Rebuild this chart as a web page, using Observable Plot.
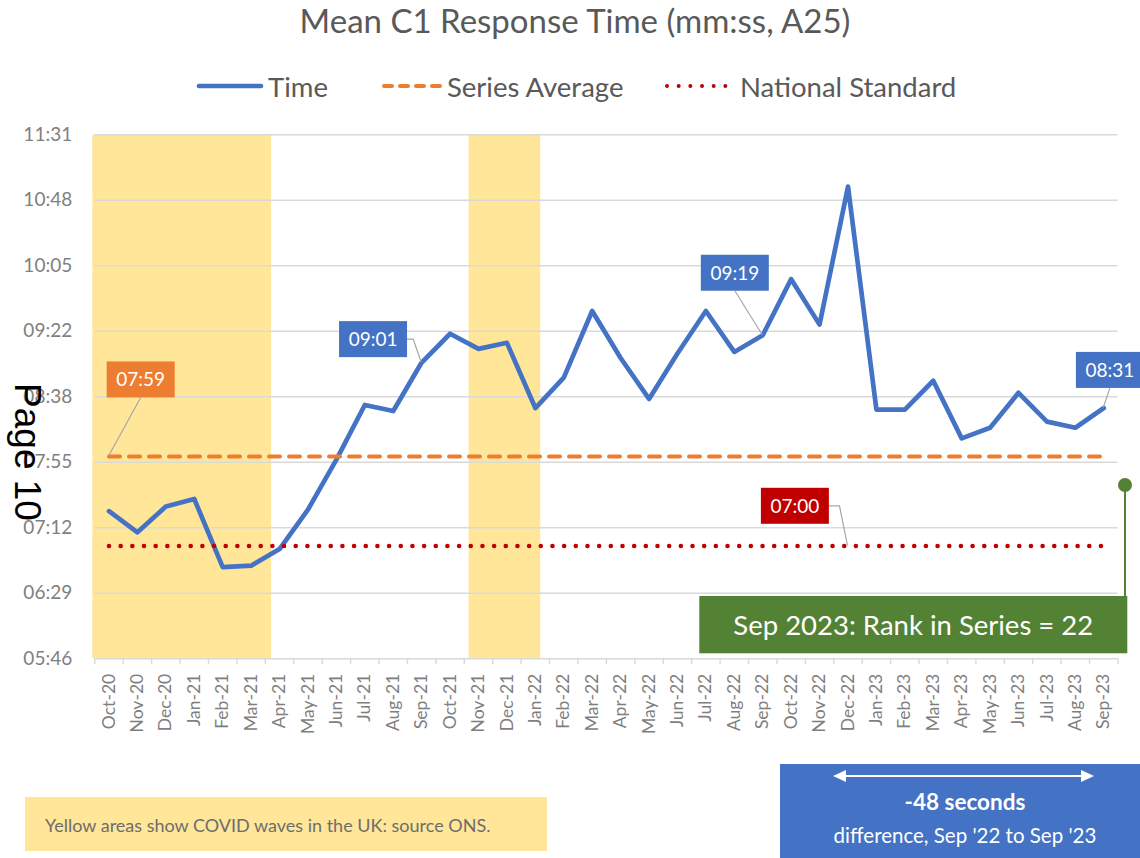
<!DOCTYPE html>
<html>
<head>
<meta charset="utf-8">
<script src="https://cdn.jsdelivr.net/npm/d3@7"></script>
<script src="https://cdn.jsdelivr.net/npm/@observablehq/plot@0.6"></script>
<style>
html, body { margin: 0; padding: 0; background: #fff; }
#page { position: relative; width: 1140px; height: 858px; overflow: hidden; font-family: Lato, "Open Sans", sans-serif; }
#title { position: absolute; left: 0; width: 1150px; top: 0px; text-align: center; font-size: 33px; color: #595959; }
.leg { position: absolute; top: 70px; height: 32px; display: flex; align-items: center; font-size: 27.5px; color: #595959; }
.leg svg { margin-right: 4px; }
#chart { position: absolute; left: 0; top: 115px; }
#note { position: absolute; left: 25px; top: 797px; width: 522px; height: 54px; background: #FFE699; color: #6d6d6d; font-size: 18px; box-sizing: border-box; padding-left: 20px; line-height: 56px; }
#diff { position: absolute; left: 780px; top: 764px; width: 370px; height: 100px; background: #4472C4; color: #fff; }
#diff .big { position: absolute; left: 0; width: 370px; text-align: center; top: 24px; font-size: 22.5px; font-weight: bold; margin-left: 0px; }
#diff .small { position: absolute; left: 0; width: 370px; text-align: center; top: 59px; font-size: 20.5px; margin-left: 0px; }
#pagemark { position: absolute; left: 27px; top: 452px; transform: translate(-50%, -50%) rotate(90deg); font-family: "Liberation Sans", Arial, sans-serif; font-size: 37px; color: #000; white-space: nowrap; }
</style>
</head>
<body>
<div id="page"></div>
<script>
// ---------- data ----------
const months = ["Oct-20","Nov-20","Dec-20","Jan-21","Feb-21","Mar-21","Apr-21","May-21","Jun-21","Jul-21","Aug-21","Sep-21",
  "Oct-21","Nov-21","Dec-21","Jan-22","Feb-22","Mar-22","Apr-22","May-22","Jun-22","Jul-22","Aug-22","Sep-22",
  "Oct-22","Nov-22","Dec-22","Jan-23","Feb-23","Mar-23","Apr-23","May-23","Jun-23","Jul-23","Aug-23","Sep-23"];
// mean C1 response time, seconds
const timeSeconds = [443, 429, 446, 451, 406, 407, 418, 444, 477, 513, 509, 541,
  560, 550, 554, 511, 531, 575, 544, 517, 547, 575, 548, 559,
  596, 566, 657, 510, 510, 529, 491, 498, 521, 502, 498, 511];
const seriesAverage = 479;      // 07:59
const nationalStandard = 420;   // 07:00
const yTicks = [345.6, 388.8, 432, 475.2, 518.4, 561.6, 604.8, 648, 691.2];
const yTickLabels = ["05:46","06:29","07:12","07:55","08:38","09:22","10:05","10:48","11:31"];
// COVID waves as positions on the month index axis
const covidWaves = [{from: -0.57, to: 5.72}, {from: 12.67, to: 15.19}];
const rankText = "Sep 2023: Rank in Series = 22";
const seriesNames = ["Time", "Series Average", "National Standard"];
const noteText = "Yellow areas show COVID waves in the UK: source ONS.";

const colors = {time: "#4472C4", avg: "#ED7D31", std: "#C00000", covid: "#FFE699", grid: "#D9D9D9", axis: "#7F7F7F", green: "#548235"};

const mmss = s => { const r = Math.round(s); const m = Math.floor(r / 60), sec = r % 60; return String(m).padStart(2, "0") + ":" + String(sec).padStart(2, "0"); };

const timeData = months.map((m, i) => ({i, month: m, v: timeSeconds[i]}));
const avgData = months.map((m, i) => ({i, v: seriesAverage}));
const stdData = months.map((m, i) => ({i, v: nationalStandard}));

// ---------- page ----------
const page = document.getElementById("page");
const title = document.createElement("div");
title.id = "title";
title.textContent = "Mean C1 Response Time (mm:ss, A25)";
page.appendChild(title);

// legend
const legendItems = [
  {name: seriesNames[0], left: 196, w: 68, stroke: colors.time, sw: 4.7, dash: null},
  {name: seriesNames[1], left: 381, w: 62, stroke: colors.avg, sw: 4, dash: "8,8"},
  {name: seriesNames[2], left: 664, w: 72, stroke: colors.std, sw: 4, dash: "0,11.67"}
];
for (const it of legendItems) {
  const d = document.createElement("div");
  d.className = "leg";
  d.style.left = it.left + "px";
  const sv = d3.create("svg").attr("width", it.w).attr("height", 12);
  sv.append("line").attr("x1", 3).attr("x2", it.w - 3).attr("y1", 6).attr("y2", 6)
    .attr("stroke", it.stroke).attr("stroke-width", it.sw).attr("stroke-linecap", "round")
    .attr("stroke-dasharray", it.dash);
  d.appendChild(sv.node());
  const t = document.createElement("span");
  t.textContent = it.name;
  d.appendChild(t);
  page.appendChild(d);
}

// ---------- plot ----------
const W = 1140, H = 743;
const plot = Plot.plot({
  width: W, height: H,
  marginLeft: 94.3, marginRight: 22.5, marginTop: 19.3, marginBottom: 199.7,
  style: {fontFamily: "Lato, 'Open Sans', sans-serif", background: "transparent", overflow: "visible"},
  x: {domain: [-0.5, months.length - 0.5], axis: null},
  y: {domain: [yTicks[0], yTicks[yTicks.length - 1]], axis: null},
  marks: [
    Plot.rect(covidWaves, {x1: "from", x2: "to", y1: yTicks[0], y2: yTicks[yTicks.length - 1], fill: colors.covid}),
    Plot.ruleY(yTicks, {stroke: colors.grid, strokeWidth: 1.4}),
    Plot.axisX(d3.range(months.length + 1).map(i => i - 0.5), {tickSize: 6, tickFormat: () => "", stroke: colors.grid, strokeWidth: 1.4, label: null}),
    Plot.axisX(d3.range(months.length), {tickSize: 0, tickPadding: 15, tickRotate: -90, tickFormat: i => months[i], fontSize: 17.5, color: colors.axis, label: null}),
    Plot.axisY(yTicks, {tickSize: 0, tickPadding: 22.6, tickFormat: d => yTickLabels[yTicks.indexOf(d)], fontSize: 19, color: colors.axis, label: null}),
    Plot.line(timeData, {x: "i", y: "v", stroke: colors.time, strokeWidth: 4.7, strokeLinejoin: "round", strokeLinecap: "round"}),
    Plot.line(avgData, {x: "i", y: "v", stroke: colors.avg, strokeWidth: 4, strokeDasharray: "11,9", strokeLinecap: "round"}),
    Plot.line(stdData, {x: "i", y: "v", stroke: colors.std, strokeWidth: 4.6, strokeDasharray: "0,11.67", strokeLinecap: "round"})
  ]
});
plot.id = "chart";
page.appendChild(plot);

// ---------- annotations anchored to data through the plot's scales ----------
const xs = plot.scale("x"), ys = plot.scale("y");
const fx = xs.apply ? (v => xs.apply(v)) : d3.scaleLinear(xs.domain, xs.range);
const fy = ys.apply ? (v => ys.apply(v)) : d3.scaleLinear(ys.domain, ys.range);
const svg = d3.select(plot);
const ann = svg.append("g").attr("font-family", "Lato, 'Open Sans', sans-serif");

const callouts = [
  {i: 0, v: seriesAverage, fill: colors.avg, dx: 32.2, dy: -76.6, leader: "bottom"},
  {i: 11, v: timeSeconds[11], fill: colors.time, dx: -48.1, dy: -22.9, leader: "right"},
  {i: 23, v: timeSeconds[23], fill: colors.time, dx: -27.4, dy: -62, leader: "bottom"},
  {i: 35, v: timeSeconds[35], fill: colors.time, dx: 6.6, dy: -37.6, leader: "bottom"},
  {i: 26, v: nationalStandard, fill: colors.std, dx: -52.6, dy: -39.7, leader: "right"}
];
const bw = 68, bh = 36;
for (const c of callouts) {
  const ax = fx(c.i), ay = fy(c.v);
  const cx = ax + c.dx, cy = ay + c.dy;
  let path;
  if (c.leader === "bottom") path = `M${cx},${cy + bh / 2}L${ax},${ay}`;
  else path = `M${cx + bw / 2},${cy}L${ax - 8},${cy}L${ax},${ay}`;
  ann.append("path").attr("d", path).attr("fill", "none").attr("stroke", "#A6A6A6").attr("stroke-width", 1.2);
  ann.append("rect").attr("x", cx - bw / 2).attr("y", cy - bh / 2).attr("width", bw).attr("height", bh).attr("fill", c.fill);
  ann.append("text").attr("x", cx).attr("y", cy).attr("dy", "0.36em").attr("text-anchor", "middle")
    .attr("fill", "#fff").attr("font-size", 19).text(mmss(c.v));
}

// rank annotation (green) at the right edge of the frame
const fr = xs.range[1], fb = ys.range[0];
const gx = fr + 7.5;
ann.append("line").attr("x1", gx).attr("x2", gx).attr("y1", fb - 173.3).attr("y2", fb - 60)
  .attr("stroke", colors.green).attr("stroke-width", 2);
ann.append("circle").attr("cx", gx).attr("cy", fb - 173.3).attr("r", 7).attr("fill", colors.green);
ann.append("rect").attr("x", fr - 418.2).attr("y", fb - 62.3).attr("width", 428).attr("height", 57.3).attr("fill", colors.green);
ann.append("text").attr("x", fr - 418.2 + 214).attr("y", fb - 33.6).attr("dy", "0.36em").attr("text-anchor", "middle")
  .attr("fill", "#fff").attr("font-size", 27.5).text(rankText);

// ---------- captions below ----------
const note = document.createElement("div");
note.id = "note";
note.textContent = noteText;
page.appendChild(note);

const diff = document.createElement("div");
diff.id = "diff";
const dsvg = d3.create("svg").attr("width", 370).attr("height", 30).style("position", "absolute").style("left", 0).style("top", 0);
const ay0 = 12;
dsvg.append("line").attr("x1", 62).attr("x2", 304).attr("y1", ay0).attr("y2", ay0).attr("stroke", "#fff").attr("stroke-width", 2.2);
dsvg.append("path").attr("d", `M53,${ay0}L66,${ay0 - 6}L66,${ay0 + 6}Z`).attr("fill", "#fff");
dsvg.append("path").attr("d", `M314,${ay0}L301,${ay0 - 6}L301,${ay0 + 6}Z`).attr("fill", "#fff");
diff.appendChild(dsvg.node());
const big = document.createElement("div");
big.className = "big";
big.textContent = (timeSeconds[35] - timeSeconds[23]) + " seconds";
diff.appendChild(big);
const small = document.createElement("div");
small.className = "small";
small.textContent = "difference, Sep '22 to Sep '23";
diff.appendChild(small);
page.appendChild(diff);

const pm = document.createElement("div");
pm.id = "pagemark";
pm.textContent = "Page 10";
page.appendChild(pm);
</script>
</body>
</html>
